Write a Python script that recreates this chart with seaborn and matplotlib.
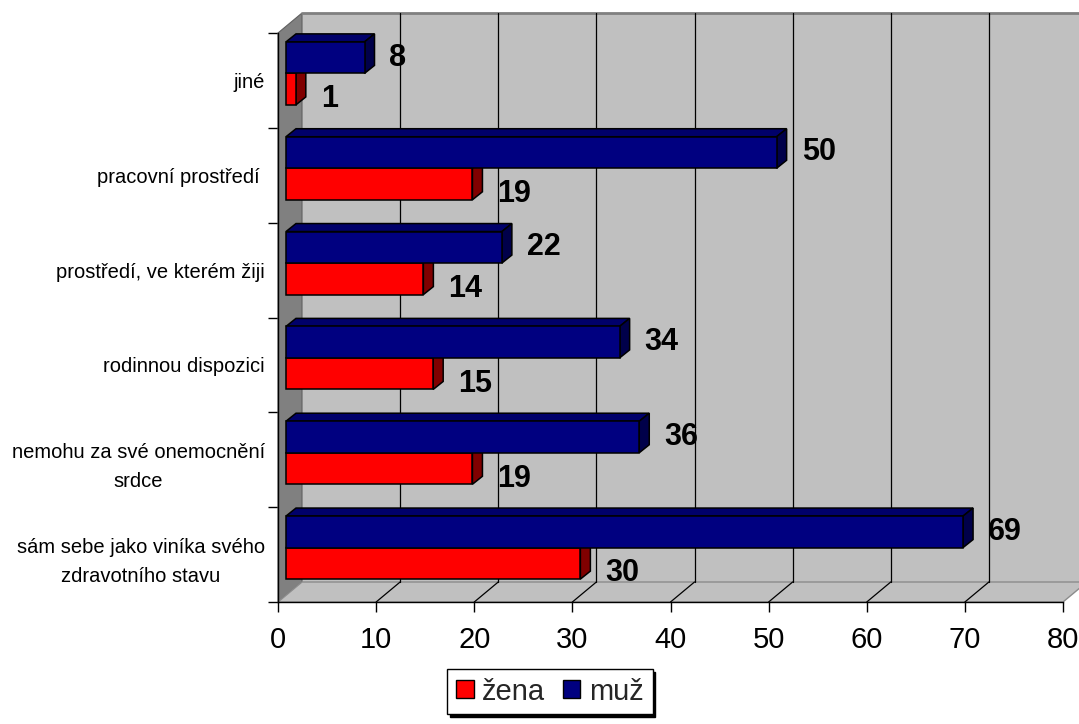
import numpy as np
import pandas as pd
import matplotlib
matplotlib.use("Agg")
import matplotlib.pyplot as plt
from matplotlib.patches import Polygon, Patch
from matplotlib.transforms import ScaledTranslation
from matplotlib.colors import to_rgb
import seaborn as sns

# ---- data -------------------------------------------------------------
categories = [
    "jiné",
    "pracovní prostředí ",
    "prostředí, ve kterém žiji",
    "rodinnou dispozici",
    "nemohu za své onemocnění\nsrdce",
    "sám sebe jako viníka svého\nzdravotního stavu",
]
muz = [8, 50, 22, 34, 36, 69]
zena = [1, 19, 14, 15, 19, 30]
series = ["žena", "muž"]
x_ticks = [0, 10, 20, 30, 40, 50, 60, 70, 80]

# ---- style ------------------------------------------------------------
sns.set_style("white")
plt.rcParams["font.family"] = ["Liberation Sans", "DejaVu Sans"]

colors = {"muž": "#000080", "žena": "#FF0000"}
top_colors = {"muž": "#00006A", "žena": "#C00000"}
side_colors = {"muž": "#00004A", "žena": "#800000"}

W, H, DPI = 1079, 724, 100
fig = plt.figure(figsize=(W / DPI, H / DPI), dpi=DPI)

# front plane of the plot box (pixels)
left_px, right_px, top_px, bottom_px = 278, 1063, 33, 602
ax = fig.add_axes([left_px / W, 1 - bottom_px / H,
                   (right_px - left_px) / W, (bottom_px - top_px) / H])
ax.set_facecolor("none")

df = pd.DataFrame({
    "kategorie": categories * 2,
    "pohlaví": ["muž"] * len(muz) + ["žena"] * len(zena),
    "počet": muz + zena,
})
sns.barplot(data=df, y="kategorie", x="počet", hue="pohlaví",
            hue_order=["muž", "žena"], order=categories, palette=colors,
            saturation=1, orient="h", width=0.665, errorbar=None,
            edgecolor="black", linewidth=1.1, legend=False, ax=ax)
bars = list(ax.patches)

xmax = x_ticks[-1]
n = len(categories)
y_top, y_bot = -0.5, n - 0.5
ax.set_xlim(0, xmax)
ax.set_ylim(y_bot, y_top)

sx = xmax / (right_px - left_px)     # data units per pixel, x
sy = n / (bottom_px - top_px)        # data units per pixel, y


def pt(x, y, ox=0.0, oy=0.0):
    """Data point shifted by ox pixels right and oy pixels up."""
    return (x + ox * sx, y - oy * sy)


# depth of the box and of the bars (pixels)
DX, DY = 24, 20
FX, FY = 8, 7
BX, BY = 10, 8

# ---- box: back wall, left wall, floor ----------------------------------
ax.add_patch(Polygon([pt(0, y_top, DX, DY), pt(xmax + 5, y_top, DX, DY),
                      pt(xmax + 5, y_bot, DX, DY), pt(0, y_bot, DX, DY)],
                     closed=True, fc="#C0C0C0", ec="none", clip_on=False, zorder=0.5))
ax.add_patch(Polygon([pt(0, y_bot), pt(0, y_top), pt(0, y_top, DX, DY), pt(0, y_bot, DX, DY)],
                     closed=True, fc="#808080", ec="#606060", lw=0.8, clip_on=False, zorder=0.6))
ax.add_patch(Polygon([pt(0, y_bot), pt(0, y_bot, DX, DY), pt(xmax, y_bot, DX, DY), pt(xmax, y_bot)],
                     closed=True, fc="#C0C0C0", ec="#8C8C8C", lw=1, clip_on=False, zorder=0.6))
tx = [pt(0, y_top, DX, DY)[0], pt(xmax + 5, y_top, DX, DY)[0]]
ty = [pt(0, y_top, DX, DY)[1]] * 2
ax.plot(tx, ty, color="#808080", lw=2, clip_on=False, zorder=0.7)

# gridlines on the back wall and their continuation on the floor
for v in x_ticks[1:-1]:
    (ax_, ay_), (bx_, by_) = pt(v, y_top, DX, DY), pt(v, y_bot, DX, DY)
    ax.plot([ax_, bx_], [ay_, by_], color="black", lw=0.9, clip_on=False, zorder=1)
    (cx_, cy_) = pt(v, y_bot)
    ax.plot([cx_, bx_], [cy_, by_], color="black", lw=0.9, clip_on=False, zorder=1)

# ---- 3D bars ------------------------------------------------------------
front = ScaledTranslation(FX / DPI, FY / DPI, fig.dpi_scale_trans)
for p in bars:
    is_m = np.allclose(p.get_facecolor()[:3], to_rgb(colors["muž"]), atol=0.02)
    key = "muž" if is_m else "žena"
    z = 3.5 if is_m else 2.5
    x0, y0, w, h = p.get_x(), p.get_y(), p.get_width(), p.get_height()
    x1 = x0 + w
    p.set_transform(ax.transData + front)
    p.set_zorder(z + 0.1)
    p.set_clip_on(False)
    top = Polygon([pt(x0, y0, FX, FY), pt(x1, y0, FX, FY),
                   pt(x1, y0, FX + BX, FY + BY), pt(x0, y0, FX + BX, FY + BY)],
                  closed=True, fc=top_colors[key], ec="black", lw=1.1,
                  clip_on=False, zorder=z)
    side = Polygon([pt(x1, y0, FX, FY), pt(x1, y0, FX + BX, FY + BY),
                    pt(x1, y0 + h, FX + BX, FY + BY), pt(x1, y0 + h, FX, FY)],
                   closed=True, fc=side_colors[key], ec="black", lw=1.1,
                   clip_on=False, zorder=z)
    ax.add_patch(top)
    ax.add_patch(side)
    # value label
    oy = (FY + 3) if is_m else (FY - 7)
    lx, ly = pt(x1, y0 + h / 2, FX + 25, oy - 11)
    ax.text(lx, ly, f"{int(round(w))}", ha="left", va="baseline",
            fontsize=22, fontweight="bold", color="black", zorder=5, clip_on=False)

# ---- axes ---------------------------------------------------------------
ax.set_xlabel("")
ax.set_ylabel("")
ax.set_xticks(x_ticks)
ax.set_xticklabels([str(v) for v in x_ticks])
ax.tick_params(axis="x", which="major", bottom=True, length=7.2, width=1,
               color="black", pad=10, labelsize=21, labelcolor="black")
ax.set_yticks(range(n))
ax.set_yticklabels(categories)
ax.tick_params(axis="y", which="major", left=True, length=0, pad=9.5,
               labelsize=14.5, labelcolor="black")
ax.set_yticks(np.arange(y_top, y_bot + 0.01, 1.0), minor=True)
ax.tick_params(axis="y", which="minor", left=True, length=7.2, width=1, color="black")
for t in ax.get_yticklabels():
    t.set_multialignment("center")
    t.set_linespacing(1.7)
for s in ["top", "right"]:
    ax.spines[s].set_visible(False)
for s in ["left", "bottom"]:
    ax.spines[s].set_color("black")
    ax.spines[s].set_linewidth(1)
    ax.spines[s].set_zorder(2)

# ---- legend -------------------------------------------------------------
handles = [Patch(facecolor=colors[s], edgecolor="black", linewidth=1, label=s) for s in series]
leg = fig.legend(handles=handles, loc="center", bbox_to_anchor=(550 / W, 1 - 691.5 / H),
                 ncol=2, fontsize=21, frameon=True, fancybox=False,
                 shadow={"color": "black", "alpha": 1}, framealpha=1,
                 handlelength=0.6, handleheight=0.6, handletextpad=0.3,
                 columnspacing=0.6, borderpad=0.3, edgecolor="black")
leg.get_frame().set_linewidth(1)

fig.savefig("out.png", dpi=DPI)
